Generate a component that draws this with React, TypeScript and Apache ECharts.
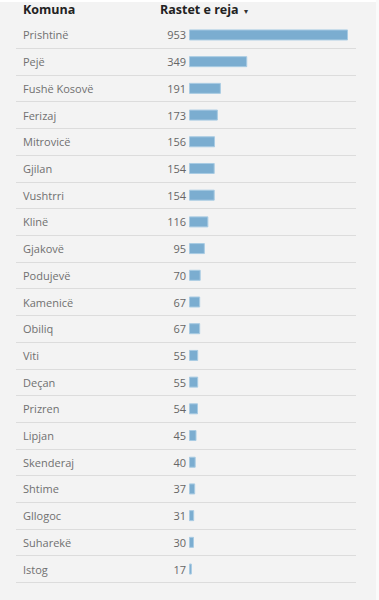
import React, { useEffect, useRef } from "react";
import * as echarts from "echarts";

const komunat = [
  "Prishtinë", "Pejë", "Fushë Kosovë", "Ferizaj", "Mitrovicë", "Gjilan", "Vushtrri",
  "Klinë", "Gjakovë", "Podujevë", "Kamenicë", "Obiliq", "Viti", "Deçan", "Prizren",
  "Lipjan", "Skenderaj", "Shtime", "Gllogoc", "Suharekë", "Istog",
];
const rastetReja = [
  953, 349, 191, 173, 156, 154, 154, 116, 95, 70, 67, 67, 55, 55, 54, 45, 40, 37, 31, 30, 17,
];
const headerKomuna = "Komuna";
const headerRastet = "Rastet e reja";
const sortArrow = "▾";

const FONT = "'Open Sans', 'Noto Sans', sans-serif";

export default function App() {
  const ref = useRef<HTMLDivElement>(null);
  useEffect(() => {
    if (!ref.current) return;
    const chart = echarts.init(ref.current, undefined, { renderer: "svg" });
    const gridLeft = 16;
    const gridRightPx = 356;
    const barStart = 189;
    const barEnd = 348;
    const maxV = Math.max(...rastetReja);
    const perPx = maxV / (barEnd - barStart);
    const xMin = -(barStart - gridLeft) * perPx;
    const xMax = (gridRightPx - barStart) * perPx;
    chart.setOption({
      animation: false,
      backgroundColor: "#f3f3f3",
      textStyle: { fontFamily: FONT },
      grid: { left: gridLeft, right: 379 - gridRightPx, top: 21.6, bottom: 17.6, containLabel: false },
      xAxis: {
        type: "value",
        min: xMin,
        max: xMax,
        show: false,
        splitLine: { show: false },
      },
      yAxis: {
        type: "category",
        inverse: true,
        data: komunat,
        axisLine: { show: false },
        axisTick: { show: false },
        axisLabel: {
          interval: 0,
          align: "left",
          margin: -7,
          color: "#707070",
          fontSize: 11,
          fontFamily: FONT,
        },
        splitLine: {
          show: true,
          interval: 0,
          showMinLine: false,
          lineStyle: { color: "#dcdcdc", width: 1 },
        },
      },
      series: [
        {
          type: "bar",
          data: rastetReja,
          barWidth: 11,
          itemStyle: { color: "#7badd0", borderColor: "#a8cbe3", borderWidth: 1 },
          label: {
            show: true,
            position: "left",
            distance: 3,
            color: "#666666",
            fontSize: 11,
            fontFamily: FONT,
          },
        },
      ],
      graphic: [
        { type: "rect", left: 0, top: 0, shape: { width: 379, height: 2 }, style: { fill: "#ffffff" }, silent: true },
        { type: "rect", left: 376, top: 0, shape: { width: 3, height: 600 }, style: { fill: "#fafafa" }, silent: true },
        {
          type: "text",
          left: 23,
          top: 3,
          style: { text: headerKomuna, fill: "#222222", font: `bold 12.5px ${FONT}` },
        },
        {
          type: "text",
          left: 160,
          top: 3,
          style: { text: headerRastet, fill: "#222222", font: `bold 12.5px ${FONT}` },
        },
        {
          type: "text",
          left: 244,
          top: 6,
          style: { text: sortArrow, fill: "#333333", font: `8px ${FONT}` },
        },
      ],
    });
    return () => chart.dispose();
  }, []);
  return (
    <div
      ref={ref}
      style={{ position: "fixed", left: 0, top: 0, width: 379, height: 600 }}
    />
  );
}
